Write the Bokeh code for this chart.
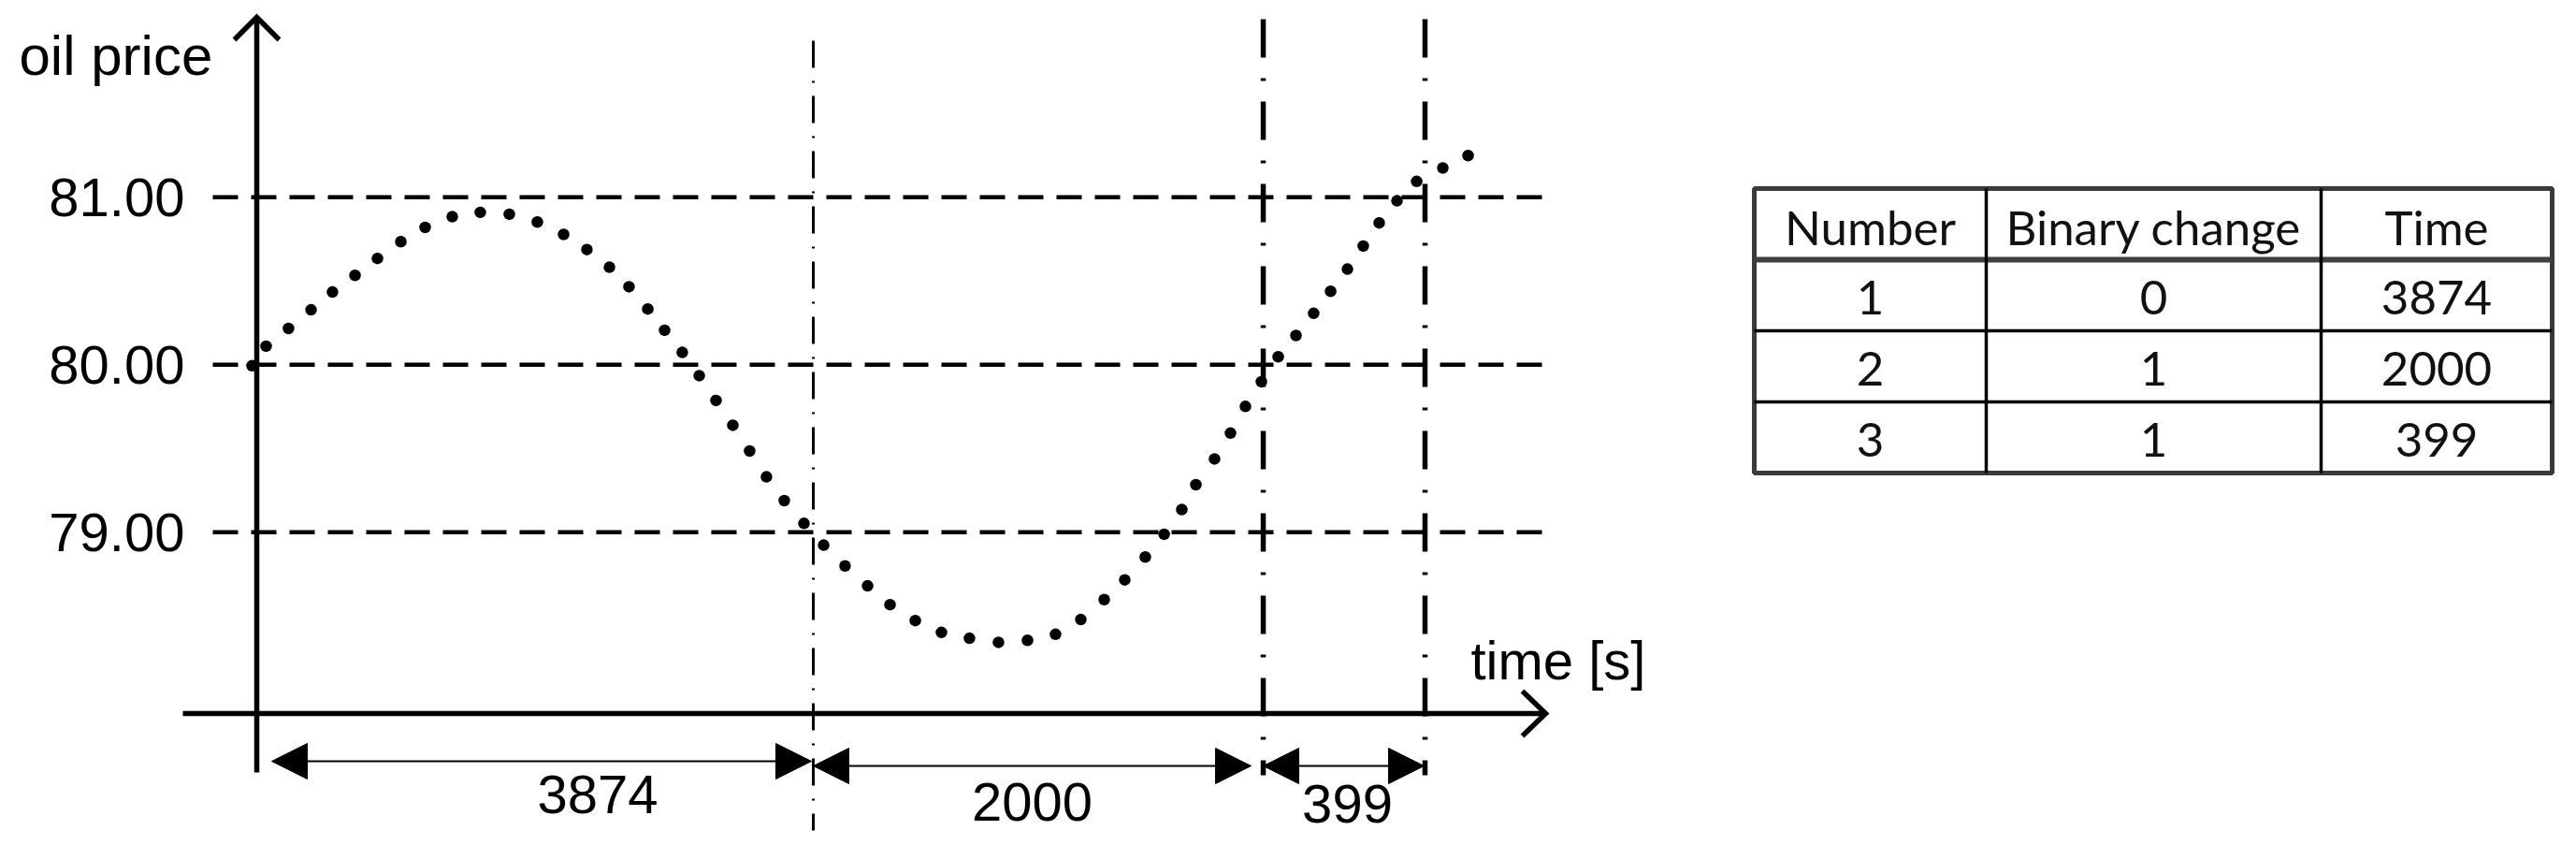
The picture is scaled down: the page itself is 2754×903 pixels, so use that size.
from bokeh.plotting import figure
from bokeh.models import Range1d, ColumnDataSource, Arrow, NormalHead
from bokeh.core.properties import value
from bokeh.embed import file_html
from bokeh.resources import INLINE

# ---------------- data ----------------
price_ticks = [79, 80, 81]
price_tick_labels = ["79.00", "80.00", "81.00"]

# drawn time position (schematic seconds) of every dot of the sampled price
dot_time = [-33, 65, 221, 378, 527, 684, 840, 1003, 1172, 1361,
            1556, 1758, 1953, 2136, 2298, 2455, 2591, 2722, 2839, 2962,
            3080, 3197, 3314, 3431, 3548, 3672, 3809, 3946, 4095, 4252,
            4408, 4584, 4766, 4961, 5163, 5365, 5560, 5736, 5899, 6042,
            6185, 6316, 6439, 6537, 6667, 6778, 6882, 6993, 7110, 7234,
            7357, 7475, 7592, 7702, 7813, 7937, 8074, 8256, 8432]
dot_price = [79.994, 80.111, 80.217, 80.328, 80.434, 80.534, 80.635, 80.735, 80.820, 80.884,
             80.910, 80.899, 80.852, 80.778, 80.688, 80.582, 80.466, 80.333, 80.206, 80.074,
             79.935, 79.787, 79.639, 79.485, 79.331, 79.189, 79.053, 78.923, 78.799, 78.680,
             78.568, 78.473, 78.402, 78.367, 78.343, 78.355, 78.391, 78.479, 78.598, 78.716,
             78.852, 78.988, 79.136, 79.284, 79.438, 79.592, 79.751, 79.899, 80.048, 80.175,
             80.307, 80.439, 80.571, 80.709, 80.847, 80.979, 81.095, 81.175, 81.249]

# drawn positions of the interval boundaries (schematic, not to scale)
boundary_time = [0, 3874, 7006, 8132]
durations = [3874, 2000, 399]

table_headers = ["Number", "Binary change", "Time"]
table_number = [1, 2, 3]
table_binary = [0, 1, 1]
table_time = [3874, 2000, 399]

# ---------------- scales / layout ----------------
W, H = 2746, 895
M = 0                            # figure origin on the screenshot
AX_X = 274                       # screen px of time 0
PX_PER_S = (869 - 274) / 3874    # drawing scale of the time axis
PY80 = 389.3                     # screen px of price 80
PX_PER_UNIT = 179.0
DY_ARIAL = -22                   # baseline correction for 58px text
DY_LATO = -19


def sx(px):
    return (px - AX_X) / PX_PER_S


def sy(py):
    return 80 - (py - PY80) / PX_PER_UNIT


p = figure(width=W, height=H, output_backend="svg", toolbar_location=None,
           x_range=Range1d(sx(M), sx(M + W)), y_range=Range1d(sy(M + H), sy(M)),
           x_axis_location=None, y_axis_location=None, min_border=0,
           outline_line_color=None, background_fill_color="white",
           border_fill_color="white")
p.xgrid.visible = False
p.ygrid.visible = False

BLACK = "#000000"
ARIAL = value("Liberation Sans")

# horizontal dashed reference lines
p.segment(x0=[sx(227)] * len(price_ticks), y0=price_ticks,
          x1=[sx(1652)] * len(price_ticks), y1=price_ticks,
          line_color=BLACK, line_width=4.5, line_dash="27 14")

# y tick labels
p.text(x=[0] * len(price_ticks), y=price_ticks, text=price_tick_labels,
       x_offset=-77, y_offset=22 + DY_ARIAL, text_align="right", text_baseline="alphabetic",
       text_font=ARIAL, text_font_size="58px", text_color=BLACK)

# axes with open arrow heads
p.line(x=[0, 0], y=[sy(825), sy(18)], line_color=BLACK, line_width=5.5)
p.line(x=[sx(250), 0, sx(298)], y=[sy(42), sy(18), sy(42)],
       line_color=BLACK, line_width=5.5, line_join="miter")
p.line(x=[sx(195), sx(1652)], y=[sy(762), sy(762)], line_color=BLACK, line_width=5.5)
p.line(x=[sx(1627), sx(1652), sx(1627)], y=[sy(738), sy(762), sy(786)],
       line_color=BLACK, line_width=5.5, line_join="miter")

# boundary lines (dash-dot)
p.segment(x0=[boundary_time[1]], y0=[sy(43)], x1=[boundary_time[1]], y1=[sy(887)],
          line_color=BLACK, line_width=3, line_dash="29 14 2 14")
p.segment(x0=boundary_time[2:], y0=[sy(20)] * 2, x1=boundary_time[2:], y1=[sy(828)] * 2,
          line_color=BLACK, line_width=5.5, line_dash="41 22 3 22")

# price samples
p.scatter(dot_time, dot_price, size=12.5, fill_color=BLACK, line_color=None)

# dimension arrows
start_inset_px = [16, 0, 0]
end_inset_px = [2, 13, 1]
arrow_y_px = [813, 818, 818]
xs = [boundary_time[i] + start_inset_px[i] / PX_PER_S for i in range(3)]
xe = [boundary_time[i + 1] - end_inset_px[i] / PX_PER_S for i in range(3)]
ys = [sy(v) for v in arrow_y_px]
arr_src = ColumnDataSource(dict(x0=xs, x1=xe, y=ys))
p.add_layout(Arrow(start=NormalHead(size=38, fill_color=BLACK, line_color=BLACK, line_width=1),
                   end=NormalHead(size=38, fill_color=BLACK, line_color=BLACK, line_width=1),
                   x_start="x0", y_start="y", x_end="x1", y_end="y",
                   source=arr_src, line_color=BLACK, line_width=2))

label_shift_px = [60, 0, 4]
label_base_px = [870, 878, 880]
p.text(x=[(xs[i] + xe[i]) / 2 for i in range(3)], y=[sy(v) for v in label_base_px],
       text=[str(d) for d in durations], x_offset=label_shift_px, y_offset=DY_ARIAL,
       text_align="center", text_baseline="alphabetic",
       text_font=ARIAL, text_font_size="58px", text_color=BLACK)

# axis titles
p.text(x=[sx(1572)], y=[sy(727)], text=["time [s]"], text_align="left", y_offset=DY_ARIAL,
       text_baseline="alphabetic", text_font=ARIAL, text_font_size="58px", text_color=BLACK)
p.text(x=[sx(20)], y=[sy(81)], text=["oil price"], text_align="left", y_offset=DY_ARIAL,
       text_baseline="alphabetic", text_font=ARIAL, text_font_size="60px", text_color=BLACK)

# ---------------- table ----------------
col_edges = [1875, 2123, 2481, 2728]
row_edges = [201, 277, 353, 429, 505]
p.quad(left=[sx(col_edges[0])], right=[sx(col_edges[-1])],
       top=[sy(row_edges[0])], bottom=[sy(row_edges[-1])],
       fill_color=None, line_color="#3a3a3a", line_width=5)
p.segment(x0=[sx(col_edges[0])], y0=[sy(row_edges[1])], x1=[sx(col_edges[-1])], y1=[sy(row_edges[1])],
          line_color="#404040", line_width=6)
p.segment(x0=[sx(col_edges[0])] * 2, y0=[sy(r) for r in row_edges[2:4]],
          x1=[sx(col_edges[-1])] * 2, y1=[sy(r) for r in row_edges[2:4]],
          line_color=BLACK, line_width=3.5)
p.segment(x0=[sx(c) for c in col_edges[1:3]], y0=[sy(row_edges[0])] * 2,
          x1=[sx(c) for c in col_edges[1:3]], y1=[sy(row_edges[-1])] * 2,
          line_color=BLACK, line_width=3.5)

col_centers = [sx((col_edges[i] + col_edges[i + 1]) / 2) for i in range(3)]
rows = [table_headers] + [[str(a), str(b), str(c)] for a, b, c in zip(table_number, table_binary, table_time)]
cx, cy, ct = [], [], []
for r, row in enumerate(rows):
    for c, txt in enumerate(row):
        cx.append(col_centers[c])
        cy.append(sy(row_edges[r] + 59.5))
        ct.append(txt)
p.text(x=cx, y=cy, text=ct, text_align="center", text_baseline="alphabetic", y_offset=DY_LATO,
       text_font=value("Lato"), text_font_size="51px", text_color="#111111")

open("out.html", "w").write(file_html(p, INLINE))
